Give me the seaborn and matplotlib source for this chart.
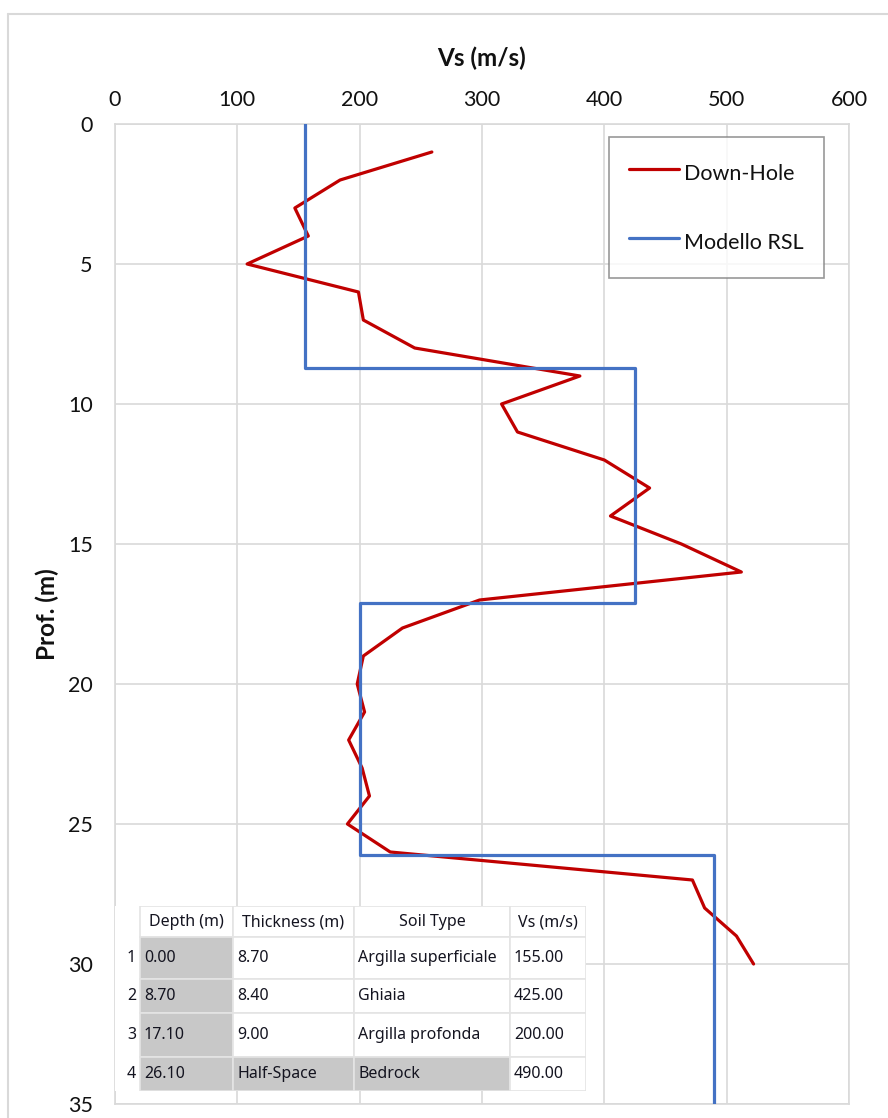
import numpy as np
import pandas as pd
import matplotlib
matplotlib.use("Agg")
import matplotlib.pyplot as plt
from matplotlib.lines import Line2D
from matplotlib.patches import Rectangle
import seaborn as sns

# ---------------- data ----------------
dh_depth = [1, 2, 3, 4, 5, 6, 7, 8, 9, 10, 11, 12, 13, 14, 15, 16, 17, 18, 19, 20,
            21, 22, 23, 24, 25, 26, 27, 28, 29, 30]
dh_vs = [259, 184, 147, 158, 108, 199, 203, 245, 380, 316, 329, 400, 437, 405, 463,
         512, 298, 235, 203, 198, 204, 191, 202, 208, 190, 225, 472, 482, 508, 522]

layer_top = [0.0, 8.7, 17.1, 26.1]
layer_thick = ["8.70", "8.40", "9.00", "Half-Space"]
layer_soil = ["Argilla superficiale", "Ghiaia", "Argilla profonda", "Bedrock"]
layer_vs = [155.0, 425.0, 200.0, 490.0]
max_depth = 35

x_ticks = [0, 100, 200, 300, 400, 500, 600]
y_ticks = [0, 5, 10, 15, 20, 25, 30, 35]
table_headers = ["Depth (m)", "Thickness (m)", "Soil Type", "Vs (m/s)"]

# step profile derived from layers
rsl_depth, rsl_vs = [], []
bounds = layer_top[1:] + [max_depth]
for top, bot, v in zip(layer_top, bounds, layer_vs):
    rsl_depth += [top, bot]
    rsl_vs += [v, v]

df_dh = pd.DataFrame({"Vs": dh_vs, "Depth": dh_depth})
df_rsl = pd.DataFrame({"Vs": rsl_vs, "Depth": rsl_depth})

# ---------------- style ----------------
sns.set_theme(style="white")
plt.rcParams["font.family"] = ["Lato", "DejaVu Sans"]

W, H = 888, 1118
fig = plt.figure(figsize=(W / 100, H / 100), dpi=100)

def px_axes(l, t, r, b):
    return [l / W, 1 - b / H, (r - l) / W, (b - t) / H]

ax = fig.add_axes(px_axes(115, 124, 849, 1104))

RED = "#c00000"
BLUE = "#4472c4"
GRID = "#d9d9d9"
TXT = "#111111"

sns.lineplot(data=df_dh, x="Vs", y="Depth", sort=False, estimator=None,
             color=RED, lw=2.3, ax=ax, label="Down-Hole", zorder=3)
sns.lineplot(data=df_rsl, x="Vs", y="Depth", sort=False, estimator=None,
             color=BLUE, lw=2.3, ax=ax, label="Modello RSL", zorder=4)

ax.set_xlim(0, 600)
ax.set_ylim(35, 0)
ax.set_xticks(x_ticks)
ax.set_yticks(y_ticks)
ax.xaxis.tick_top()
ax.xaxis.set_label_position("top")
ax.tick_params(axis="both", length=0, labelsize=15.5, colors=TXT)
ax.tick_params(axis="x", pad=10)
ax.tick_params(axis="y", pad=16)
ax.grid(True, color=GRID, lw=1.2)
ax.set_axisbelow(True)
for s in ax.spines.values():
    s.set_color(GRID)
    s.set_linewidth(1.2)

ax.set_xlabel("Vs (m/s)", fontsize=17.5, fontweight="bold", labelpad=17, color=TXT)
ax.set_ylabel("Prof. (m)", fontsize=17.5, fontweight="bold", labelpad=6, color=TXT)

leg = ax.legend(loc="upper right", bbox_to_anchor=((824 - 115) / 734, 1 - (137 - 124) / 980),
                fontsize=15.5, frameon=True, fancybox=False, edgecolor="#7f7f7f",
                handlelength=2.3, handleheight=1.86, handletextpad=0.25,
                labelspacing=1.77, borderpad=0.94, borderaxespad=0)
leg.get_frame().set_linewidth(1.2)
for t in leg.get_texts():
    t.set_color(TXT)

# outer chart frame
fig.add_artist(Line2D([8 / W, 8 / W], [0, 1 - 14 / H], color=GRID, lw=1.5))
fig.add_artist(Line2D([8 / W, 1], [1 - 14 / H, 1 - 14 / H], color=GRID, lw=1.5))

# ---------------- embedded table ----------------
col_w = [25, 93, 121, 156, 76]
row_h = [31, 42, 34, 44, 34]
tx0, ty0 = 115, 906
tw, th = sum(col_w), sum(row_h)
tax = fig.add_axes(px_axes(tx0, ty0, tx0 + tw, ty0 + th))
tax.set_zorder(5)
tax.set_xlim(0, tw)
tax.set_ylim(th, 0)
tax.axis("off")
tax.add_patch(Rectangle((0, 0), tw, th, facecolor="white", edgecolor="none"))

xe = np.concatenate([[0], np.cumsum(col_w)])
ye = np.concatenate([[0], np.cumsum(row_h)])
gray = "#c8c8c8"
edge = "#e4e4e4"
tfont = ["Noto Sans", "DejaVu Sans"]
tcol = "#141420"
tfs = 11.5

# header
for j, h in enumerate(table_headers):
    c = j + 1
    tax.add_patch(Rectangle((xe[c], ye[0]), col_w[c], row_h[0], facecolor="white",
                            edgecolor=edge, lw=1.2))
    tax.text((xe[c] + xe[c + 1]) / 2, (ye[0] + ye[1]) / 2 + 1, h, ha="center", va="center",
             fontsize=tfs, family=tfont, color=tcol)

for i in range(len(layer_top)):
    r = i + 1
    cells = [f"{layer_top[i]:.2f}", layer_thick[i], layer_soil[i], f"{layer_vs[i]:.2f}"]
    fills = [gray, gray if layer_thick[i] == "Half-Space" else "white",
             gray if layer_thick[i] == "Half-Space" else "white", "white"]
    tax.text(xe[1] - 4, (ye[r] + ye[r + 1]) / 2, str(r), ha="right", va="center",
             fontsize=tfs, family=tfont, color=tcol)
    for j, (txt, fc) in enumerate(zip(cells, fills)):
        c = j + 1
        tax.add_patch(Rectangle((xe[c], ye[r]), col_w[c], row_h[r], facecolor=fc,
                                edgecolor=edge, lw=1.2))
        tax.text(xe[c] + 4, (ye[r] + ye[r + 1]) / 2, txt, ha="left", va="center",
                 fontsize=tfs, family=tfont, color=tcol)

fig.savefig("out.png", dpi=100, facecolor="white")
